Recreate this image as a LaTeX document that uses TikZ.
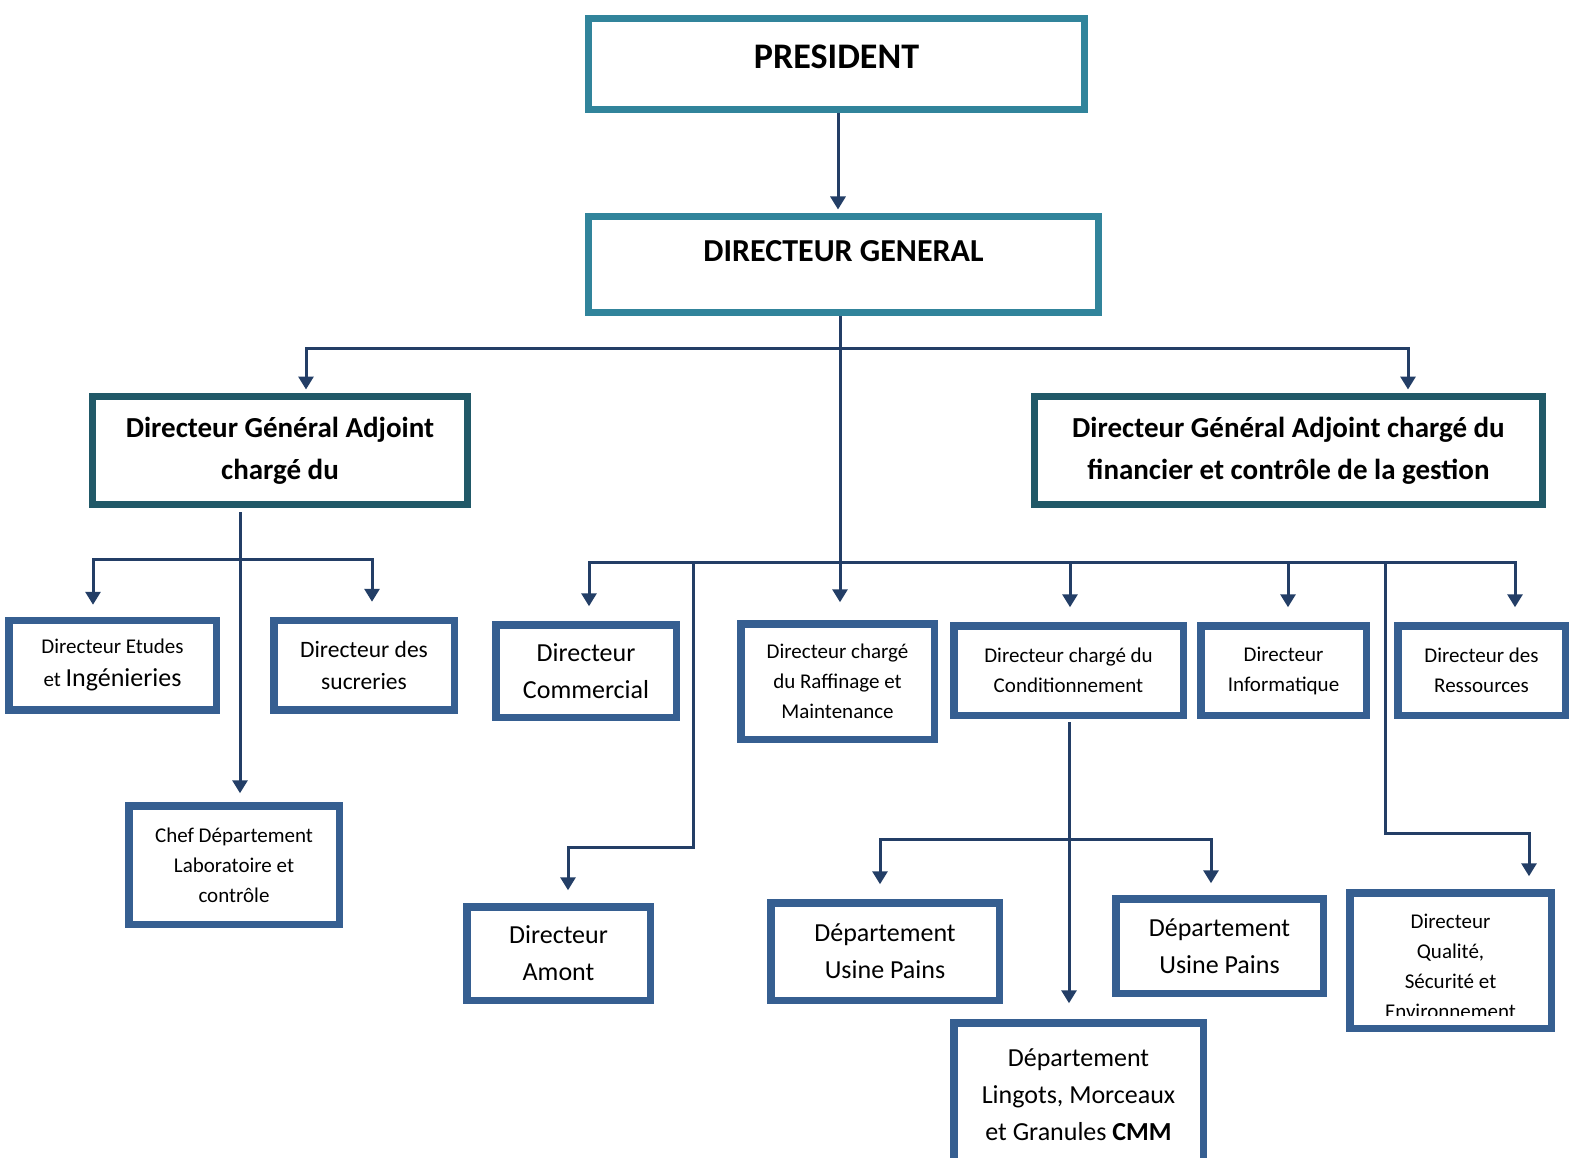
\documentclass[tikz,border=0pt]{standalone}
\usepackage{fontspec}
\setmainfont{Carlito}
\usetikzlibrary{arrows.meta}
\definecolor{tealA}{RGB}{49,132,155}
\definecolor{tealD}{RGB}{33,89,104}
\definecolor{blueB}{RGB}{54,95,145}
\definecolor{navy}{RGB}{35,62,102}
\tikzset{
  boxT/.style={draw=tealA, line width=7pt, fill=white, inner sep=0pt, align=center},
  boxD/.style={draw=tealD, line width=7pt, fill=white, inner sep=0pt, align=center},
  boxB/.style={draw=blueB, line width=7.5pt, fill=white, inner sep=0pt, align=center},
  small/.style={font=\fontsize{21}{30}\selectfont},
  medium/.style={font=\fontsize{26}{37}\selectfont},
  conn/.style={draw=navy, line width=3pt},
  arr/.style={conn, -{Triangle[width=15pt,length=13pt]}},
}
\begin{document}
\begin{tikzpicture}[x=1pt,y=-1pt]
\useasboundingbox[fill=white] (0,0) rectangle (1570,1158);

% top level
\node[boxT, minimum width=496pt, minimum height=91pt, text depth=14pt,
      font=\fontsize{36}{40}\selectfont\bfseries] (pres) at (836.5,64) {PRESIDENT};
\node[boxT, minimum width=510pt, minimum height=96pt, text depth=26pt,
      font=\fontsize{32}{36}\selectfont\bfseries] (dg) at (843.5,264.5) {DIRECTEUR GENERAL};

\node[boxD, minimum width=375pt, minimum height=108pt,
      font=\fontsize{29}{42}\selectfont\bfseries] (dgal) at (280,450.5)
      {Directeur Général Adjoint\\chargé du};
\node[boxD, minimum width=508pt, minimum height=108pt,
      font=\fontsize{29}{42}\selectfont\bfseries] (dgar) at (1288.5,450.5)
      {Directeur Général Adjoint chargé du\\financier et contrôle de la gestion};

% left branch
\node[boxB, minimum width=207.5pt, minimum height=89.5pt,
      font=\fontsize{21}{33}\selectfont] (etu) at (112.5,665)
      {Directeur Etudes\\et {\fontsize{26}{33}\selectfont Ingénieries}};
\node[boxB, minimum width=180.5pt, minimum height=89.5pt,
      font=\fontsize{23.5}{32}\selectfont] (suc) at (364,665)
      {Directeur des\\sucreries};
\node[boxB, small, minimum width=210.5pt, minimum height=118.5pt] (chef) at (234,865)
      {Chef Département\\Laboratoire et\\contrôle};

% middle row
\node[boxB, medium, minimum width=180.5pt, minimum height=92.5pt] (com) at (586,671)
      {Directeur\\Commercial};
\node[boxB, small, minimum width=193.5pt, minimum height=115.5pt] (raf) at (837.5,681.5)
      {Directeur chargé\\du Raffinage et\\Maintenance};
\node[boxB, small, minimum width=229.5pt, minimum height=89.5pt] (cond) at (1068.5,670.5)
      {Directeur chargé du\\Conditionnement};
\node[boxB, small, minimum width=165.5pt, minimum height=89.5pt] (info) at (1283.5,670.5)
      {Directeur\\Informatique};
\node[boxB, small, minimum width=167.5pt, minimum height=89.5pt] (res) at (1481.5,670.5)
      {Directeur des\\Ressources};

% bottom row
\node[boxB, medium, minimum width=183.5pt, minimum height=93.5pt] (amont) at (558.5,953.5)
      {Directeur\\Amont};
\node[boxB, medium, minimum width=228.5pt, minimum height=97.5pt] (upl) at (885,951.5)
      {Département\\Usine Pains};
\node[boxB, medium, minimum width=207.5pt, minimum height=94.5pt] (upr) at (1219.5,946)
      {Département\\Usine Pains};
\node[boxB, medium, minimum width=249.5pt, minimum height=143.5pt] (lmc) at (1078.5,1094.5)
      {Département\\Lingots, Morceaux\\et Granules \textbf{CMM}};
\node[boxB, minimum width=201.5pt, minimum height=135.5pt] (qse) at (1450.5,960.5) {};
\begin{scope}
  \clip (1350,893) rectangle (1551,1015);
  \node[small, align=center, inner sep=0pt] (qseT) at (1450.5,966)
      {Directeur\\Qualité,\\Sécurité et\\Environnement};
\end{scope}

% junction coordinates
\coordinate (j1) at (840,348);
\coordinate (bL) at (306,348);
\coordinate (bR) at (1408,348);
\coordinate (j2) at (840,562);
\coordinate (busL) at (589,562);
\coordinate (busR) at (1515,562);
\coordinate (d693) at (693,562);
\coordinate (e693) at (693,847);
\coordinate (f568) at (568,847);
\coordinate (d1385) at (1385,562);
\coordinate (e1385) at (1385,833);
\coordinate (f1529) at (1529,833);
\coordinate (sL) at (240,512);
\coordinate (hL) at (93,559);
\coordinate (hR) at (372,559);
\coordinate (sC) at (1069,722);
\coordinate (hCL) at (880,839);
\coordinate (hCR) at (1211,839);

% connectors
\draw[arr, shorten >=3.5pt] (pres.south -| 838,0) -- (838,0 |- dg.north);
\draw[arr, shorten >=3.5pt] (j1) -- (bL) -- (bL |- dgal.north);
\draw[arr, shorten >=3.5pt] (j1) -- (bR) -- (bR |- dgar.north);
\draw[arr, shorten >=17.75pt] (dg.south -| j1) -- (j1 |- raf.north);
\draw[arr, shorten >=14.75pt] (j2) -- (busL) -- (busL |- com.north);
\draw[arr, shorten >=14.75pt] (j2) -- (busR) -- (busR |- res.north);
\draw[arr, shorten >=14.75pt] (1070,562) -- (1070,0 |- cond.north);
\draw[arr, shorten >=14.75pt] (1288,562) -- (1288,0 |- info.north);
\draw[arr, shorten >=12.75pt] (d693) -- (e693) -- (f568) -- (f568 |- amont.north);
\draw[arr, shorten >=12.75pt] (d1385) -- (e1385) -- (f1529) -- (f1529 |- qse.north);

\draw[arr, shorten >=8.75pt] (sL) -- (sL |- chef.north);
\draw[arr, shorten >=11.75pt] (hR) -- (hL) -- (hL |- etu.north);
\draw[arr, shorten >=14.75pt] (hL) -- (hR) -- (hR |- suc.north);

\draw[arr, shorten >=15.75pt] (sC) -- (sC |- lmc.north);
\draw[arr, shorten >=14.75pt] (hCR) -- (hCL) -- (hCL |- upl.north);
\draw[arr, shorten >=11.75pt] (hCL) -- (hCR) -- (hCR |- upr.north);
\end{tikzpicture}
\end{document}
